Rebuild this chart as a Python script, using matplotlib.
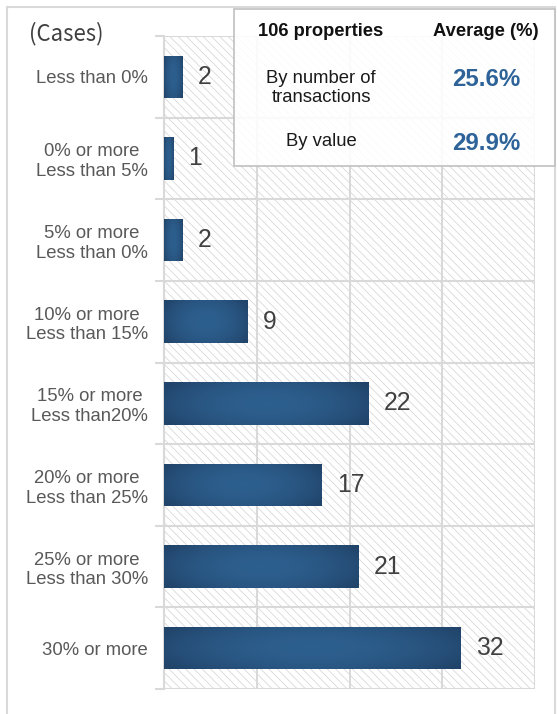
import numpy as np
import matplotlib
matplotlib.use("Agg")
import matplotlib.pyplot as plt
from matplotlib.colors import LinearSegmentedColormap
from matplotlib.patches import Rectangle

plt.rcParams["font.family"] = ["Liberation Sans", "DejaVu Sans"]
plt.rcParams["hatch.linewidth"] = 0.5
plt.rcParams["hatch.color"] = "#d2d2d2"

# Distribution of cap-rate gaps (number of properties per band)
categories = [
    "Less than 0%",
    "0% or more\nLess than 5%",
    "5% or more\nLess than 0%",
    "10% or more\nLess than 15%",
    "15% or more\nLess than20%",
    "20% or more\nLess than 25%",
    "25% or more\nLess than 30%",
    "30% or more",
]
counts = [2, 1, 2, 9, 22, 17, 21, 32]

# Summary table
table_header = ["106 properties", "Average (%)"]
table_rows = ["By number of\ntransactions", "By value"]
table_values = ["25.6%", "29.9%"]

W, H, DPI = 557, 714, 100
fig = plt.figure(figsize=(W / DPI, H / DPI), dpi=DPI, facecolor="white")


def fx(x):
    return x / W


def fy(y):
    return 1 - y / H


ax = fig.add_axes([fx(164), fy(689), fx(535) - fx(164), fy(36) - fy(689)])
ax.set_facecolor("white")

grid_c = "#d9d9d9"
n = len(categories)
ypos = np.arange(n)

# hatched plotting area
ax.add_patch(Rectangle((0, 0), 1, 1, transform=ax.transAxes, facecolor="white",
                       edgecolor="#d2d2d2", linewidth=0, hatch="\\\\\\\\", zorder=0))

ax.set_xticks(np.arange(0, 41, 10))
ax.set_yticks(ypos)
ax.set_yticks(np.arange(-0.5, n, 1.0), minor=True)
ax.grid(True, axis="x", which="major", color=grid_c, linewidth=1.5, zorder=1)
ax.grid(True, axis="y", which="minor", color=grid_c, linewidth=1.5, zorder=1)
ax.set_axisbelow(True)

ax.tick_params(axis="x", which="both", length=0, labelbottom=False)
ax.tick_params(axis="y", which="major", length=0, pad=11.5,
               labelsize=13.3, labelcolor="#595959")
ax.tick_params(axis="y", which="minor", length=6.5, width=1.5, color=grid_c)
ax.set_yticklabels(categories)
for lbl in ax.get_yticklabels():
    lbl.set_multialignment("center")

for s in ["top", "right", "bottom"]:
    ax.spines[s].set_visible(False)
ax.spines["left"].set_color(grid_c)
ax.spines["left"].set_linewidth(1.5)

# bars with a soft shaded fill
bars = ax.barh(ypos, counts, height=0.52, color="#28527d", zorder=2)
cmap = LinearSegmentedColormap.from_list("bar", ["#21446a", "#2d5f8e"])
u = np.linspace(-1, 1, 200)
v = np.linspace(-1, 1, 40)
U, V = np.meshgrid(u, v)
shade = 1 - 0.75 * U ** 2 - 0.35 * V ** 2
for b in bars:
    x0, y0, w, h = b.get_x(), b.get_y(), b.get_width(), b.get_height()
    im = ax.imshow(shade, cmap=cmap, vmin=0, vmax=1, aspect="auto",
                   extent=(x0, x0 + w, y0 + h, y0), zorder=3, interpolation="bilinear")
    im.set_clip_path(b)

ax.set_xlim(0, 40)
ax.set_ylim(n - 0.5, -0.5)

for y, c in zip(ypos, counts):
    ax.annotate(str(c), xy=(c, y), xytext=(11, 0), textcoords="offset points",
                va="center", ha="left", fontsize=17.8, color="#404040", zorder=4)

fig.text(fx(29), fy(34), "(Cases)", fontsize=16, color="#404040",
         family=["Noto Sans CJK JP", "DejaVu Sans"], va="center", ha="left")

# summary box
fig.add_artist(Rectangle((fx(234), fy(166)), fx(555) - fx(234), fy(9) - fy(166),
                         transform=fig.transFigure, facecolor=(1, 1, 1, 0.88),
                         edgecolor="#c0c0c0", linewidth=1.2, zorder=5))
fig.text(fx(321), fy(32), table_header[0], fontsize=13.2, fontweight="bold",
         color="#111111", ha="center", va="center", zorder=6)
fig.text(fx(486), fy(32), table_header[1], fontsize=13.2, fontweight="bold",
         color="#111111", ha="center", va="center", zorder=6)
row_y = [88, 141]
val_y = [80, 144]
for label, val, ry, vy in zip(table_rows, table_values, row_y, val_y):
    fig.text(fx(321), fy(ry), label, fontsize=13.3, color="#1a1a1a",
             ha="center", va="center", multialignment="center", zorder=6)
    fig.text(fx(486), fy(vy), val, fontsize=17.3, fontweight="bold",
             color="#2e6399", ha="center", va="center", zorder=6)

# outer frame
fig.add_artist(Rectangle((fx(7), fy(730)), fx(555) - fx(7), fy(7) - fy(730),
                         transform=fig.transFigure, facecolor="none",
                         edgecolor="#d9d9d9", linewidth=1.5, zorder=4))

fig.savefig("out.png", dpi=DPI, facecolor="white")
